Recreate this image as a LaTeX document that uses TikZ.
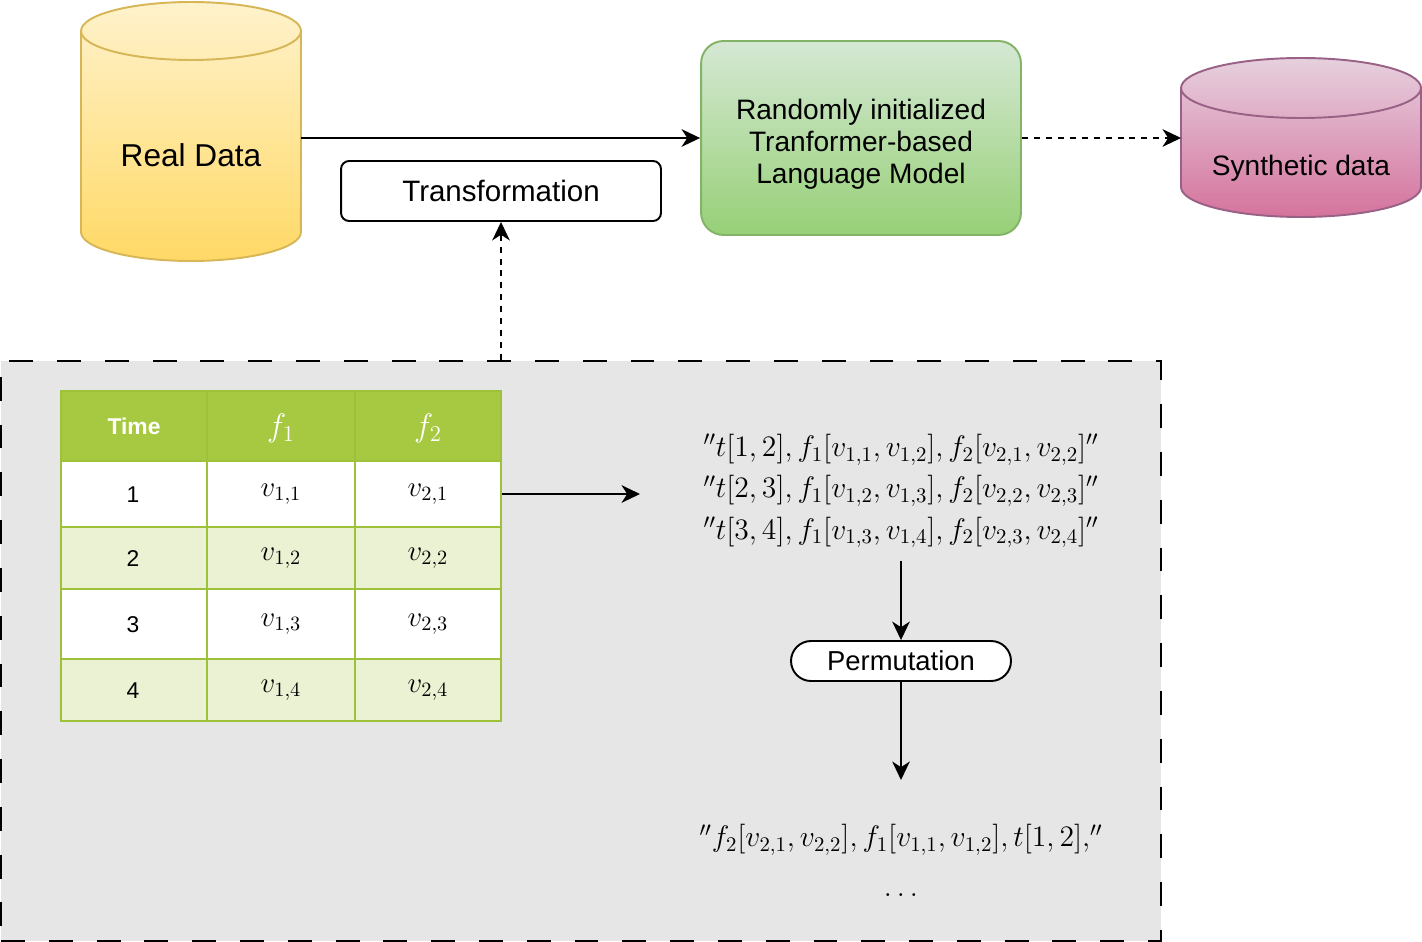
\RequirePackage{fix-cm}
\documentclass[tikz,border=0pt]{standalone}
\usepackage[no-math]{fontspec}
\setmainfont{Liberation Sans}
\usepackage{amsmath}
\usetikzlibrary{positioning,arrows.meta}
\definecolor{realTop}{HTML}{FFF2CC}
\definecolor{realBot}{HTML}{FFD966}
\definecolor{realLine}{HTML}{D6B656}
\definecolor{lmTop}{HTML}{D5E8D4}
\definecolor{lmBot}{HTML}{97D077}
\definecolor{lmLine}{HTML}{82B366}
\definecolor{synTop}{HTML}{E6D0DE}
\definecolor{synBot}{HTML}{D5739D}
\definecolor{synLine}{HTML}{996185}
\definecolor{panelGray}{HTML}{E6E6E6}
\definecolor{tabHead}{HTML}{A7C942}
\definecolor{tabAlt}{HTML}{EAF2D3}
\definecolor{tabLine}{HTML}{9DC23A}

\begin{document}
\begin{tikzpicture}[x=0.02cm, y=0.02cm, line width=1.1pt,
    arr/.style={-{Stealth[length=10.5pt,width=10pt,inset=3.2pt]}},
    dotarr/.style={arr, dash pattern=on 3.4pt off 3.4pt},
    panel/.style={draw, fill=panelGray, dash pattern=on 13.6pt off 13.6pt,
      minimum width=23.2cm, minimum height=11.6cm},
    plainbox/.style={draw, fill=white, rounded corners=0.16cm,
      minimum width=6.4cm, minimum height=1.2cm, font=\fontsize{16.8}{20}\selectfont},
    pill/.style={draw, fill=white, rounded corners=0.4cm,
      minimum width=4.4cm, minimum height=0.8cm, font=\fontsize{15.6}{19}\selectfont},
    lmbox/.style={draw=lmLine, top color=lmTop, bottom color=lmBot, rounded corners=0.45cm,
      minimum width=6.4cm, minimum height=3.88cm},
    cell/.style={minimum width=2.92cm, minimum height=1.2cm, inner sep=0pt,
      font=\fontsize{13}{15}\selectfont},
    headcell/.style={cell, text=white},
    mathtxt/.style={font=\fontsize{16.9}{23.5}\selectfont, align=center}]
  \useasboundingbox (0,0) rectangle (1422,-942);

  % grey panel with the table and the text rows
  \node[panel] (panel) at (581,-651) {};

  % real data cylinder
  \path[draw=realLine, top color=realTop, bottom color=realBot]
    (81,-31) -- (81,-232) arc[start angle=180, end angle=360, x radius=2.2cm, y radius=0.58cm]
    -- (301,-31) arc[start angle=0, end angle=180, x radius=2.2cm, y radius=0.58cm] -- cycle;
  \draw[realLine] (81,-31) arc[start angle=180, end angle=360, x radius=2.2cm, y radius=0.58cm];
  \node[font=\fontsize{18}{20}\selectfont] (real) at (191,-155) {Real Data};
  \coordinate (realOut) at (301,-138);

  % synthetic data cylinder
  \path[draw=synLine, top color=synTop, bottom color=synBot]
    (1181,-88) -- (1181,-187) arc[start angle=180, end angle=360, x radius=2.4cm, y radius=0.6cm]
    -- (1421,-88) arc[start angle=0, end angle=180, x radius=2.4cm, y radius=0.6cm] -- cycle;
  \draw[synLine] (1181,-88) arc[start angle=180, end angle=360, x radius=2.4cm, y radius=0.6cm];
  \node[font=\fontsize{16}{18}\selectfont] (synth) at (1301,-168) {Synthetic data};
  \coordinate (synthIn) at (1181,-138);

  \node[lmbox, label={[align=center, font=\fontsize{16}{18.2}\selectfont, yshift=-0.12cm]center:
    Randomly initialized\\Tranformer-based\\Language Model}] (lm) at (861,-138) {};
  \node[plainbox] (trans) at (501,-191) {Transformation};

  \draw[arr] (realOut) -- (lm.west);
  \draw[dotarr] (lm.east) -- (synthIn);
  \draw[dotarr] (panel.north -| trans.south) -- (trans.south);

  % table
  \fill[tabHead] (61,-391) rectangle (501,-461);
  \fill[white] (61,-461) rectangle (501,-527);
  \fill[tabAlt] (61,-527) rectangle (501,-589);
  \fill[white] (61,-589) rectangle (501,-659);
  \fill[tabAlt] (61,-659) rectangle (501,-721);
  \foreach \y in {461,527,589,659}
    \draw[tabLine] (61,-\y) -- (501,-\y);
  \draw[tabLine] (207,-391) -- (207,-721);
  \draw[tabLine] (355,-391) -- (355,-721);
  \draw[tabLine] (61,-391) rectangle (501,-721);

  \node[headcell] (hTime) at (134,-426) {\textbf{Time}};
  \node[headcell] (hF1) at (281,-428) {\fontsize{18.5}{20}\selectfont$f_1$};
  \node[headcell] (hF2) at (428,-428) {\fontsize{18.5}{20}\selectfont$f_2$};
  \node[cell] (t1) at (133,-495) {1};
  \node[cell] (v11) at (281,-494) {\fontsize{16.5}{18}\selectfont$v_{1,1}$};
  \node[cell] (v21) at (428,-494) {\fontsize{16.5}{18}\selectfont$v_{2,1}$};
  \node[cell] (t2) at (133,-559) {2};
  \node[cell] (v12) at (281,-558) {\fontsize{16.5}{18}\selectfont$v_{1,2}$};
  \node[cell] (v22) at (428,-558) {\fontsize{16.5}{18}\selectfont$v_{2,2}$};
  \node[cell] (t3) at (133,-625) {3};
  \node[cell] (v13) at (281,-624) {\fontsize{16.5}{18}\selectfont$v_{1,3}$};
  \node[cell] (v23) at (428,-624) {\fontsize{16.5}{18}\selectfont$v_{2,3}$};
  \node[cell] (t4) at (133,-691) {4};
  \node[cell] (v14) at (281,-690) {\fontsize{16.5}{18}\selectfont$v_{1,4}$};
  \node[cell] (v24) at (428,-690) {\fontsize{16.5}{18}\selectfont$v_{2,4}$};

  % text rows and permutation
  \node[mathtxt, inner ysep=7pt] (lines) at (901,-491) {%
    ${}''t[1,2], f_1[v_{1,1},v_{1,2}], f_2[v_{2,1},v_{2,2}]''$\\
    ${}''t[2,3], f_1[v_{1,2},v_{1,3}], f_2[v_{2,2},v_{2,3}]''$\\
    ${}''t[3,4], f_1[v_{1,3},v_{1,4}], f_2[v_{2,3},v_{2,4}]''$};
  \coordinate (tabOut) at (640,-494);
  \draw[arr] (v21.east) -- (tabOut);

  \node[pill] (perm) at (901,-661) {Permutation};
  \draw[arr] (lines.south) -- (perm.north);
  \coordinate (permOut) at (901,-780);
  \draw[arr] (perm.south) -- (permOut);

  \node[mathtxt] (shuffled) at (901,-840) {${}''f_2[v_{2,1},v_{2,2}], f_1[v_{1,1},v_{1,2}], t[1,2],''$};
  \node[mathtxt] (more) at (901,-895) {$\ldots$};
\end{tikzpicture}
\end{document}
